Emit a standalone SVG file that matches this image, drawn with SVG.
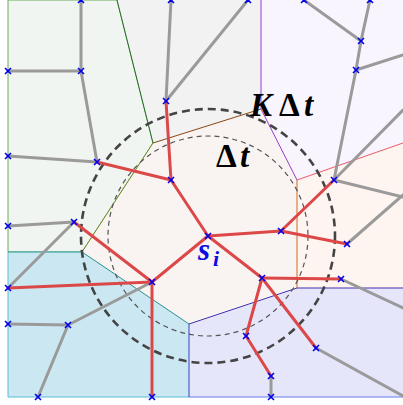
<svg xmlns="http://www.w3.org/2000/svg" width="403" height="405" viewBox="0 0 403 405">
<defs>
<style>
.reg{stroke-width:1}
.g{stroke:#9a9a9a;stroke-width:3;fill:none;stroke-linecap:round}
.r{stroke:#dc4848;stroke-width:3;fill:none;stroke-linecap:round}
.x{stroke:#0000ee;stroke-width:1.6;fill:none}
.lbl{font-family:"Liberation Serif","DejaVu Serif",serif;font-weight:bold;font-size:33px;fill:#000}
</style>
<path id="xm" d="M-3,-3L3,3M-3,3L3,-3"/>
</defs>
<rect width="403" height="405" fill="#ffffff"/>
<g id="regions">
<polygon class="reg" points="8,0 117,0 153,143 82,252 8,252" fill="#f1f5f1" stroke="#6aaa5a"/>
<polygon class="reg" points="117,0 261,0 261,109 153,143" fill="#f2f2f2" stroke="none"/>
<polygon class="reg" points="261,0 403,0 403,143 297,180 261,109" fill="#f9f5ff" stroke="none"/>
<polygon class="reg" points="297,180 403,143 403,288 297,288" fill="#fff5f0" stroke="none"/>
<polygon class="reg" points="153,143 261,109 297,180 297,288 189,324 82,252" fill="#f9f4f2" stroke="none"/>
<polygon class="reg" points="297,288 403,288 403,397 189,397 189,324" fill="#e6e6fa" stroke="none"/>
<polygon class="reg" points="8,252 82,252 189,324 189,397 8,397" fill="#cbe8f2" stroke="none"/>
<line x1="8" y1="252" x2="8" y2="397" stroke="#5bbcd8" stroke-width="1"/>
<line x1="8" y1="397" x2="189" y2="397" stroke="#5bbcd8" stroke-width="1"/>
<line x1="189" y1="397" x2="403" y2="397" stroke="#6a7af0" stroke-width="1"/>
<line x1="8" y1="252" x2="82" y2="252" stroke="#2a9a9a" stroke-width="1"/>
<line x1="82" y1="252" x2="189" y2="324" stroke="#2a9090" stroke-width="1"/>
<line x1="117" y1="0" x2="153" y2="143" stroke="#1f6a1f" stroke-width="1"/>
<line x1="153" y1="143" x2="82" y2="252" stroke="#6b8a23" stroke-width="1"/>
<line x1="153" y1="143" x2="261" y2="109" stroke="#8b4513" stroke-width="1"/>
<polyline points="261,0 261,109 297,180" fill="none" stroke="#9a3ccc" stroke-width="1"/>
<line x1="297" y1="180" x2="403" y2="143" stroke="#e85a6a" stroke-width="1"/>
<line x1="297" y1="180" x2="297" y2="288" stroke="#d2691e" stroke-width="1"/>
<polyline points="189,324 297,288 403,288" fill="none" stroke="#4030b0" stroke-width="1"/>
<line x1="189" y1="324" x2="189" y2="397" stroke="#3344cc" stroke-width="1"/>
</g>
<g id="circles" fill="none">
<circle cx="208" cy="236" r="127" stroke="#444" stroke-width="2.6" stroke-dasharray="8,5"/>
<circle cx="208" cy="236" r="100" stroke="#555" stroke-width="1.2" stroke-dasharray="5,4"/>
</g>
<g id="connectors">
<line class="g" x1="81" y1="0" x2="81" y2="71"/>
<line class="g" x1="8" y1="71" x2="81" y2="71"/>
<line class="g" x1="81" y1="71" x2="97" y2="162"/>
<line class="g" x1="8" y1="156" x2="97" y2="162"/>
<line class="g" x1="171" y1="0" x2="166" y2="101"/>
<line class="g" x1="166" y1="101" x2="248" y2="0"/>
<line class="g" x1="304" y1="0" x2="361" y2="41"/>
<line class="g" x1="370" y1="0" x2="361" y2="41"/>
<line class="g" x1="361" y1="41" x2="356" y2="70"/>
<line class="g" x1="356" y1="70" x2="403" y2="55"/>
<line class="g" x1="356" y1="70" x2="334" y2="180"/>
<line class="g" x1="334" y1="180" x2="403" y2="110"/>
<line class="g" x1="334" y1="180" x2="403" y2="197"/>
<line class="g" x1="347" y1="244" x2="403" y2="195"/>
<line class="g" x1="74" y1="222" x2="8" y2="226"/>
<line class="g" x1="74" y1="222" x2="8" y2="288"/>
<line class="g" x1="152" y1="282" x2="68" y2="325"/>
<line class="g" x1="68" y1="325" x2="8" y2="324"/>
<line class="g" x1="68" y1="325" x2="38" y2="397"/>
<line class="g" x1="341" y1="279" x2="403" y2="308"/>
<line class="g" x1="271" y1="376" x2="271" y2="397"/>
<line class="g" x1="316" y1="348" x2="403" y2="396"/>
<line class="r" x1="97" y1="162" x2="171" y2="180"/>
<line class="r" x1="166" y1="101" x2="171" y2="180"/>
<line class="r" x1="171" y1="180" x2="208" y2="236"/>
<line class="r" x1="208" y1="236" x2="281" y2="231"/>
<line class="r" x1="281" y1="231" x2="347" y2="244"/>
<line class="r" x1="281" y1="231" x2="334" y2="180"/>
<line class="r" x1="208" y1="236" x2="152" y2="282"/>
<line class="r" x1="152" y1="282" x2="8" y2="288"/>
<line class="r" x1="152" y1="282" x2="152" y2="397"/>
<line class="r" x1="152" y1="282" x2="74" y2="222"/>
<line class="r" x1="208" y1="236" x2="262" y2="278"/>
<line class="r" x1="262" y1="278" x2="341" y2="279"/>
<line class="r" x1="262" y1="278" x2="246" y2="336"/>
<line class="r" x1="246" y1="336" x2="271" y2="376"/>
<line class="r" x1="262" y1="278" x2="316" y2="348"/>
</g>
<g id="nodes">
<g id="n1"><use href="#xm" class="x" x="81" y="0"/></g>
<g id="n2"><use href="#xm" class="x" x="8" y="71"/></g>
<g id="n3"><use href="#xm" class="x" x="81" y="71"/></g>
<g id="n4"><use href="#xm" class="x" x="8" y="156"/></g>
<g id="n5"><use href="#xm" class="x" x="97" y="162"/></g>
<g id="n6"><use href="#xm" class="x" x="171" y="0"/></g>
<g id="n7"><use href="#xm" class="x" x="166" y="101"/></g>
<g id="n8"><use href="#xm" class="x" x="171" y="180"/></g>
<g id="n9"><use href="#xm" class="x" x="248" y="0"/></g>
<g id="n10"><use href="#xm" class="x" x="304" y="0"/></g>
<g id="n11"><use href="#xm" class="x" x="370" y="0"/></g>
<g id="n12"><use href="#xm" class="x" x="361" y="41"/></g>
<g id="n13"><use href="#xm" class="x" x="356" y="70"/></g>
<g id="n14"><use href="#xm" class="x" x="334" y="180"/></g>
<g id="si"><use href="#xm" class="x" x="208" y="236"/></g>
<g id="n16"><use href="#xm" class="x" x="281" y="231"/></g>
<g id="n17"><use href="#xm" class="x" x="347" y="244"/></g>
<g id="n18"><use href="#xm" class="x" x="74" y="222"/></g>
<g id="n19"><use href="#xm" class="x" x="8" y="226"/></g>
<g id="n20"><use href="#xm" class="x" x="8" y="288"/></g>
<g id="n21"><use href="#xm" class="x" x="152" y="282"/></g>
<g id="n22"><use href="#xm" class="x" x="68" y="325"/></g>
<g id="n23"><use href="#xm" class="x" x="8" y="324"/></g>
<g id="n24"><use href="#xm" class="x" x="38" y="397"/></g>
<g id="n25"><use href="#xm" class="x" x="152" y="397"/></g>
<g id="n26"><use href="#xm" class="x" x="262" y="278"/></g>
<g id="n27"><use href="#xm" class="x" x="341" y="279"/></g>
<g id="n28"><use href="#xm" class="x" x="246" y="336"/></g>
<g id="n29"><use href="#xm" class="x" x="271" y="376"/></g>
<g id="n30"><use href="#xm" class="x" x="271" y="397"/></g>
<g id="n31"><use href="#xm" class="x" x="316" y="348"/></g>
</g>
<g id="labels">
<text class="lbl" y="116"><tspan x="250" font-style="italic">K</tspan><tspan x="279">Δ</tspan><tspan x="304" font-style="italic">t</tspan></text>
<text class="lbl" y="167"><tspan x="216">Δ</tspan><tspan x="240" font-style="italic">t</tspan></text>
<text y="260" font-family="Liberation Serif, DejaVu Serif, serif" font-weight="bold" font-style="italic" font-size="31" fill="#0a0ae6"><tspan x="198">s</tspan><tspan x="213" y="266" font-size="22">i</tspan></text>
</g>
</svg>
